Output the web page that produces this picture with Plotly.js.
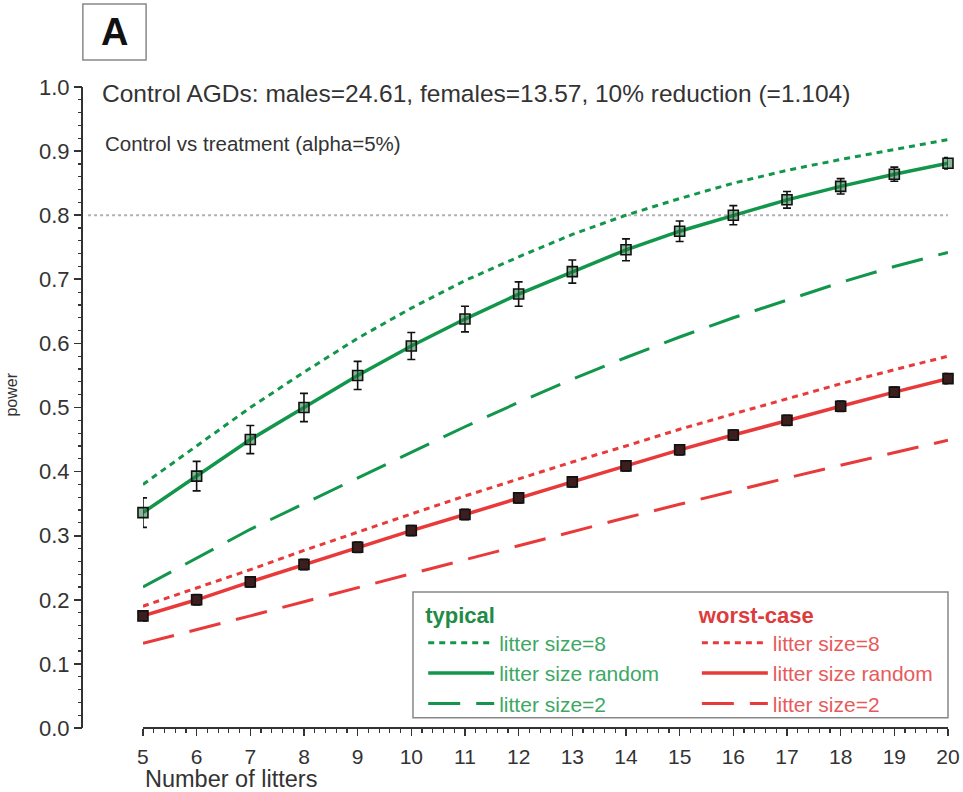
<!DOCTYPE html>
<html>
<head>
<meta charset="utf-8">
<script src="https://cdn.plot.ly/plotly-3.0.1.min.js"></script>
<style>html,body{margin:0;padding:0;background:#fff;}#chart{width:963px;height:792px;}</style>
</head>
<body>
<div id="chart"></div>
<script>
// ---- data ----
const litters = [5, 6, 7, 8, 9, 10, 11, 12, 13, 14, 15, 16, 17, 18, 19, 20];

const typicalSize8 = [0.380, 0.440, 0.500, 0.555, 0.608, 0.655, 0.698, 0.735, 0.770, 0.800, 0.826, 0.850, 0.870, 0.887, 0.903, 0.918];
const typicalRandom = [0.336, 0.393, 0.450, 0.500, 0.550, 0.596, 0.638, 0.677, 0.712, 0.746, 0.775, 0.800, 0.824, 0.845, 0.864, 0.881];
const typicalRandomErr = [0.023, 0.023, 0.022, 0.022, 0.022, 0.021, 0.020, 0.019, 0.018, 0.017, 0.016, 0.015, 0.013, 0.012, 0.011, 0.009];
const typicalSize2 = [0.220, 0.265, 0.310, 0.350, 0.390, 0.430, 0.470, 0.508, 0.544, 0.578, 0.610, 0.640, 0.668, 0.695, 0.720, 0.742];

const worstSize8 = [0.190, 0.218, 0.247, 0.277, 0.306, 0.334, 0.362, 0.389, 0.415, 0.440, 0.466, 0.490, 0.514, 0.537, 0.559, 0.580];
const worstRandom = [0.175, 0.200, 0.228, 0.255, 0.282, 0.308, 0.333, 0.359, 0.384, 0.409, 0.434, 0.457, 0.480, 0.502, 0.524, 0.545];
const worstRandomErr = [0.008, 0.008, 0.008, 0.008, 0.008, 0.008, 0.008, 0.008, 0.008, 0.008, 0.008, 0.008, 0.008, 0.008, 0.008, 0.008];
const worstSize2 = [0.132, 0.153, 0.175, 0.197, 0.219, 0.241, 0.263, 0.285, 0.307, 0.328, 0.349, 0.370, 0.390, 0.410, 0.430, 0.449];

const seriesNames = ['litter size=8', 'litter size random', 'litter size=2'];
const groupTitles = ['typical', 'worst-case'];
const targetPower = 0.8;
const xTickLabels = litters.map(String);
const yTickVals = [0, 0.1, 0.2, 0.3, 0.4, 0.5, 0.6, 0.7, 0.8, 0.9, 1.0];

const titleText = 'Control AGDs: males=24.61, females=13.57, 10% reduction (=1.104)';
const subtitleText = 'Control vs treatment (alpha=5%)';
const panelLabel = 'A';
const xTitle = 'Number of litters';
const yTitle = 'power';

// ---- style / geometry ----
const FONT = 'Liberation Sans, Arial, Helvetica, sans-serif';
const GREEN = 'rgb(18,150,75)';
const RED = 'rgb(232,58,58)';
const GREEN_TXT = 'rgb(60,168,100)';
const RED_TXT = 'rgb(232,90,90)';
const AXIS = '#333333';
const DOT = '6px,5px';
const LONGDASH = '32px,16px';
const xRange = [litters[0], litters[litters.length - 1]];
const yRange = [0, 1];

function lineTrace(y, name, color, dash, width, legend, group) {
  return {
    x: litters, y: y, name: name, type: 'scatter', mode: 'lines',
    line: {color: color, dash: dash, width: width},
    legend: legend, legendgroup: group, hoverinfo: 'skip'
  };
}
function pointTrace(y, err, fill) {
  return {
    x: litters, y: y, type: 'scatter', mode: 'markers', showlegend: false,
    cliponaxis: false,
    marker: {symbol: 'square', size: 10, color: fill, line: {color: '#111', width: 1.6}},
    error_y: {type: 'data', array: err, visible: true, color: '#111', thickness: 1.6, width: 4},
    hoverinfo: 'skip'
  };
}

const traces = [
  lineTrace(typicalSize8, seriesNames[0], GREEN, DOT, 3, 'legend', 't1'),
  lineTrace(typicalRandom, seriesNames[1], GREEN, 'solid', 3.5, 'legend', 't2'),
  lineTrace(typicalSize2, seriesNames[2], GREEN, LONGDASH, 3, 'legend', 't3'),
  lineTrace(worstSize8, seriesNames[0], RED, DOT, 3, 'legend2', 'w1'),
  lineTrace(worstRandom, seriesNames[1], RED, 'solid', 3.5, 'legend2', 'w2'),
  lineTrace(worstSize2, seriesNames[2], RED, LONGDASH, 3, 'legend2', 'w3'),
  pointTrace(typicalRandom, typicalRandomErr, 'rgba(40,120,70,0.55)'),
  pointTrace(worstRandom, worstRandomErr, 'rgb(60,30,30)'),
  // empty helper trace carrying the overlay axes used for the minor tick marks
  {x: [], y: [], type: 'scatter', mode: 'lines', xaxis: 'x2', yaxis: 'y2', showlegend: false, hoverinfo: 'skip'}
];

const legendCommon = {
  xanchor: 'left', yanchor: 'top', orientation: 'v',
  bgcolor: 'rgba(0,0,0,0)', borderwidth: 0,
  tracegroupgap: 0, itemwidth: 66, itemclick: false, itemdoubleclick: false
};

const layout = {
  width: 963, height: 792,
  margin: {l: 82, r: 15, t: 87, b: 64},
  paper_bgcolor: '#fff', plot_bgcolor: 'rgba(0,0,0,0)',
  font: {family: FONT, color: AXIS},
  showlegend: true,
  xaxis: {
    domain: [0.0704, 1], range: xRange, anchor: 'free', position: 0,
    tickmode: 'array', tickvals: litters, ticktext: xTickLabels,
    ticks: 'outside', ticklen: 7, tickwidth: 1.6, tickcolor: AXIS,
    showline: true, linecolor: AXIS, linewidth: 2,
    showgrid: false, zeroline: false, ticklabelstandoff: 3,
    tickfont: {size: 21, color: AXIS, family: FONT}
  },
  xaxis2: {
    overlaying: 'x', range: xRange, anchor: 'free', position: 0, side: 'bottom',
    tickmode: 'linear', tick0: xRange[0], dtick: 0.2,
    ticks: 'outside', ticklen: 4, tickwidth: 1.2, tickcolor: AXIS,
    showticklabels: false, showline: false, showgrid: false, zeroline: false
  },
  yaxis: {
    domain: [0, 1], range: yRange, anchor: 'free', position: 0,
    tickmode: 'array', tickvals: yTickVals, tickformat: '.1f',
    ticks: 'outside', ticklen: 7, tickwidth: 1.6, tickcolor: AXIS,
    showline: true, linecolor: AXIS, linewidth: 2,
    showgrid: false, zeroline: false,
    tickfont: {size: 22, color: AXIS, family: FONT}
  },
  yaxis2: {
    overlaying: 'y', range: yRange, anchor: 'free', position: 0, side: 'left',
    tickmode: 'linear', tick0: 0, dtick: 0.02,
    ticks: 'outside', ticklen: 4, tickwidth: 1.2, tickcolor: AXIS,
    showticklabels: false, showline: false, showgrid: false, zeroline: false
  },
  legend: Object.assign({}, legendCommon, {
    x: 0.394, y: 0.209,
    font: {size: 21, color: GREEN_TXT, family: FONT},
    title: {text: '<b>' + groupTitles[0] + '</b>', font: {size: 22, color: 'rgb(30,140,70)', family: FONT}}
  }),
  legend2: Object.assign({}, legendCommon, {
    x: 0.710, y: 0.209,
    font: {size: 21, color: RED_TXT, family: FONT},
    title: {text: '<b>' + groupTitles[1] + '</b>', font: {size: 22, color: 'rgb(220,60,60)', family: FONT}}
  }),
  shapes: [
    {type: 'line', xref: 'paper', yref: 'y', x0: 0.007, x1: 1,
     y0: targetPower, y1: targetPower,
     line: {color: '#b0b0b0', width: 2, dash: '3px,3px'}, layer: 'below'},
    {type: 'rect', xref: 'paper', yref: 'paper', x0: 0.3822, x1: 1.0, y0: 0.016, y1: 0.212,
     line: {color: '#888', width: 1.5}, fillcolor: 'rgba(0,0,0,0)'},
    {type: 'rect', xref: 'paper', yref: 'paper', x0: 0.001, x1: 0.074, y0: 1.042, y1: 1.1295,
     line: {color: '#888', width: 1.5}, fillcolor: 'rgba(0,0,0,0)'}
  ],
  annotations: [
    {text: '<b>' + panelLabel + '</b>', xref: 'paper', yref: 'paper', x: 0.0375, y: 1.086,
     xanchor: 'center', yanchor: 'middle', showarrow: false, font: {size: 38, color: '#111', family: FONT}},
    {text: titleText, xref: 'paper', yref: 'paper', x: 0.0208, y: 0.9906,
     xanchor: 'left', yanchor: 'middle', showarrow: false, font: {size: 24.5, color: AXIS, family: FONT}},
    {text: subtitleText, xref: 'paper', yref: 'paper', x: 0.0242, y: 0.9126,
     xanchor: 'left', yanchor: 'middle', showarrow: false, font: {size: 20.5, color: AXIS, family: FONT}},
    {text: xTitle, xref: 'paper', yref: 'paper', x: 0.0704, y: -0.0795,
     xanchor: 'left', yanchor: 'middle', showarrow: false, font: {size: 23.5, color: AXIS, family: FONT}},
    {text: yTitle, xref: 'paper', yref: 'paper', x: -0.081, y: 0.52, textangle: -90,
     xanchor: 'center', yanchor: 'middle', showarrow: false, font: {size: 16, color: AXIS, family: FONT}}
  ]
};

Plotly.newPlot('chart', traces, layout, {staticPlot: true, displayModeBar: false});
</script>
</body>
</html>
